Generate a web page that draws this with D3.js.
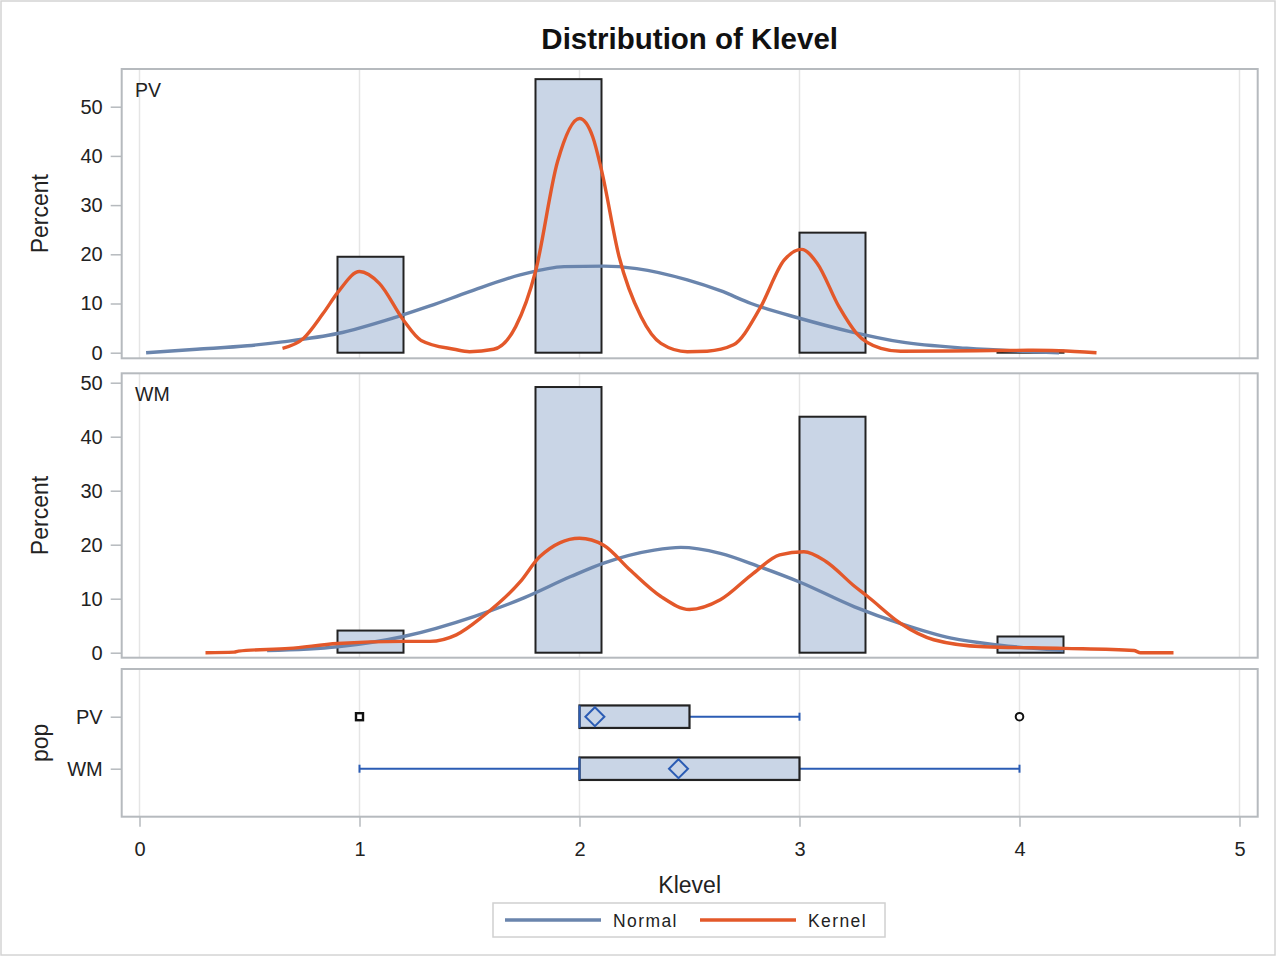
<!DOCTYPE html>
<html>
<head>
<meta charset="utf-8">
<script src="https://cdn.jsdelivr.net/npm/d3@7"></script>
<style>
  html, body { margin: 0; padding: 0; background: #fff; }
  svg { display: block; font-family: "Liberation Sans", Arial, sans-serif; }
</style>
</head>
<body>
<svg id="chart" width="1276" height="957"></svg>
<script>
// ---- data ----
const xTicks = [0, 1, 2, 3, 4, 5];
const pctTicks = [0, 10, 20, 30, 40, 50];
const groups = ["PV", "WM"];

// histogram bins (Klevel) and percent per bin
const binEdges = [0.9, 1.2, 1.5, 1.8, 2.1, 2.4, 2.7, 3.0, 3.3, 3.6, 3.9, 4.2];
const pvPercent = [19.5, 0, 0, 55.6, 0, 0, 0, 24.4, 0, 0, 0.4];
const wmPercent = [4.1, 0, 0, 49.2, 0, 0, 0, 43.7, 0, 0, 3.0];

// fitted normal density (percent scale)
const pvNormal = [[0.03,0.0],[0.26,0.7],[0.49,1.4],[0.65,2.2],[0.9,3.9],[1.17,7.3],[1.32,9.5],[1.5,12.4],
  [1.73,15.8],[1.93,17.5],[2.11,17.6],[2.26,17.1],[2.49,14.8],[2.64,12.6],[2.78,10.0],[3.0,7.0],
  [3.23,4.3],[3.46,2.2],[3.76,0.9],[4.06,0.2],[4.18,0.0]];
const wmNormal = [[0.58,0.4],[0.9,1.1],[1.2,3.0],[1.52,6.7],[1.75,10.2],[1.96,14.1],[2.11,16.6],[2.34,19.0],
  [2.46,19.5],[2.64,18.4],[2.82,15.9],[3.0,13.1],[3.25,8.5],[3.46,5.4],[3.69,2.7],[3.91,1.4],[4.2,0.4]];

// kernel density estimate (percent scale)
const pvKernel = [[0.65,0.9],[0.745,2.9],[0.835,8.0],[0.904,12.4],[1.0,16.5],[1.09,14.1],[1.2,6.6],[1.28,2.5],
  [1.43,0.7],[1.5,0.2],[1.61,0.7],[1.71,5.3],[1.8,16.5],[1.9,38.8],[2.0,47.6],[2.06,43.9],[2.1,37.1],
  [2.18,19.5],[2.28,7.3],[2.37,1.9],[2.49,0.2],[2.58,0.3],[2.7,1.6],[2.82,9.0],[2.93,18.8],[3.01,21.0],
  [3.08,18.2],[3.18,9.3],[3.26,3.9],[3.37,0.9],[3.46,0.3],[3.8,0.4],[4.06,0.5],[4.18,0.4],[4.35,0.0]];
const wmKernel = [[0.3,0.0],[0.43,0.1],[0.45,0.3],[0.68,0.8],[0.9,1.7],[1.2,2.1],[1.32,2.1],[1.44,3.3],
  [1.56,6.7],[1.73,13.1],[1.82,17.8],[2.0,21.2],[2.11,19.9],[2.23,15.3],[2.37,10.4],[2.5,8.0],
  [2.64,9.8],[2.79,14.7],[2.91,18.1],[3.02,18.7],[3.12,16.9],[3.25,12.3],[3.31,10.4],[3.46,5.4],
  [3.61,2.4],[3.84,1.1],[4.2,0.8],[4.52,0.4],[4.55,0.0],[4.7,0.0]];

// box plot summaries per group
const boxQ1 = [2, 2];
const boxMedian = [2, 2];
const boxQ3 = [2.5, 3];
const boxMean = [2.07, 2.45];
const whiskerLow = [2, 1];
const whiskerHigh = [3, 4];
const outliers = [[1, 4], []];

// ---- layout ----
const svg = d3.select("#chart");
const W = 1276, H = 957;
const frameL = 121.7, frameR = 1257.7;
const blue = "#6a85ad", orange = "#e3582a", boxFill = "#c9d5e6", whisk = "#2b5cb4";
const frameColor = "#b6babe", gridColor = "#e5e5e5", textColor = "#222";

const x = d3.scaleLinear().domain([0, 5]).range([139.5, 1239.5]);

svg.append("rect").attr("x", 1).attr("y", 1).attr("width", W - 2).attr("height", H - 3)
  .attr("fill", "#fff").attr("stroke", "#d4d4d4").attr("stroke-width", 1.5);

svg.append("text").attr("x", (frameL + frameR) / 2).attr("y", 49)
  .attr("text-anchor", "middle").attr("font-size", 29.5).attr("font-weight", "bold")
  .attr("fill", "#111").text("Distribution of Klevel");

function gridlines(g, top, bottom) {
  g.append("g").selectAll("line").data(xTicks).join("line")
    .attr("x1", d => x(d)).attr("x2", d => x(d))
    .attr("y1", top).attr("y2", bottom)
    .attr("stroke", gridColor).attr("stroke-width", 1.5);
}

function frame(g, top, bottom) {
  g.append("rect").attr("x", frameL).attr("y", top)
    .attr("width", frameR - frameL).attr("height", bottom - top)
    .attr("fill", "none").attr("stroke", frameColor).attr("stroke-width", 2);
}

function styleAxis(ax) {
  ax.select(".domain").remove();
  ax.selectAll(".tick line").attr("stroke", frameColor).attr("stroke-width", 1.5);
  ax.selectAll(".tick text").attr("fill", textColor).attr("font-size", 20)
    .attr("font-family", "'Liberation Sans', Arial, sans-serif");
}

function histPanel(label, percent, normal, kernel, top, bottom, y0, y50) {
  const y = d3.scaleLinear().domain([0, 50]).range([y0, y50]);
  const g = svg.append("g");
  gridlines(g, top, bottom);

  const bins = percent.map((v, i) => ({ a: binEdges[i], b: binEdges[i + 1], v }));
  g.append("g").selectAll("rect").data(bins).join("rect")
    .attr("x", d => x(d.a)).attr("width", d => x(d.b) - x(d.a))
    .attr("y", d => y(d.v)).attr("height", d => y(0) - y(d.v))
    .attr("fill", boxFill).attr("stroke", "#222").attr("stroke-width", 2);

  const line = d3.line().x(d => x(d[0])).y(d => y(d[1])).curve(d3.curveMonotoneX);
  g.append("path").attr("d", line(normal)).attr("fill", "none")
    .attr("stroke", blue).attr("stroke-width", 3.4).attr("stroke-linejoin", "round");
  g.append("path").attr("d", line(kernel)).attr("fill", "none")
    .attr("stroke", orange).attr("stroke-width", 3.4).attr("stroke-linejoin", "round");

  frame(g, top, bottom);

  const ax = g.append("g").attr("transform", `translate(${frameL},0)`)
    .call(d3.axisLeft(y).tickValues(pctTicks).tickSize(11).tickPadding(8));
  styleAxis(ax);

  g.append("text").attr("x", 135).attr("y", top + 28).attr("font-size", 19.5)
    .attr("fill", textColor).text(label);

  g.append("text").attr("transform", `translate(48,${(top + bottom) / 2}) rotate(-90)`)
    .attr("text-anchor", "middle").attr("font-size", 23).attr("fill", textColor).text("Percent");
}

histPanel("PV", pvPercent, pvNormal, pvKernel, 69, 358.3, 352.7, 106.7);
histPanel("WM", wmPercent, wmNormal, wmKernel, 373.3, 657.7, 652.7, 382.7);

// ---- box plot panel ----
const bTop = 669, bBottom = 816.7;
const yb = d3.scalePoint().domain(groups).range([716.7, 768.7]);
const gb = svg.append("g");
gridlines(gb, bTop, bBottom);
const boxH = 22.5;

groups.forEach((grp, i) => {
  const cy = yb(grp);
  // whiskers
  if (whiskerLow[i] < boxQ1[i]) {
    gb.append("line").attr("x1", x(whiskerLow[i])).attr("x2", x(boxQ1[i]))
      .attr("y1", cy).attr("y2", cy).attr("stroke", whisk).attr("stroke-width", 2);
    gb.append("line").attr("x1", x(whiskerLow[i])).attr("x2", x(whiskerLow[i]))
      .attr("y1", cy - 4).attr("y2", cy + 4).attr("stroke", whisk).attr("stroke-width", 2);
  }
  if (whiskerHigh[i] > boxQ3[i]) {
    gb.append("line").attr("x1", x(boxQ3[i])).attr("x2", x(whiskerHigh[i]))
      .attr("y1", cy).attr("y2", cy).attr("stroke", whisk).attr("stroke-width", 2);
    gb.append("line").attr("x1", x(whiskerHigh[i])).attr("x2", x(whiskerHigh[i]))
      .attr("y1", cy - 4).attr("y2", cy + 4).attr("stroke", whisk).attr("stroke-width", 2);
  }
  // box
  gb.append("rect").attr("x", x(boxQ1[i])).attr("y", cy - boxH / 2)
    .attr("width", x(boxQ3[i]) - x(boxQ1[i])).attr("height", boxH)
    .attr("fill", boxFill).attr("stroke", "#222").attr("stroke-width", 2.2);
  // median
  gb.append("line").attr("x1", x(boxMedian[i])).attr("x2", x(boxMedian[i]))
    .attr("y1", cy - boxH / 2).attr("y2", cy + boxH / 2)
    .attr("stroke", whisk).attr("stroke-width", 2);
  // mean
  const m = x(boxMean[i]), r = 9.5;
  gb.append("path").attr("d", `M${m},${cy - r}L${m + r},${cy}L${m},${cy + r}L${m - r},${cy}Z`)
    .attr("fill", "none").attr("stroke", whisk).attr("stroke-width", 2);
  // outliers
  outliers[i].forEach((o, k) => {
    if (k === 0 && o < boxQ1[i]) {
      gb.append("rect").attr("x", x(o) - 3.5).attr("y", cy - 3.5).attr("width", 7).attr("height", 7)
        .attr("fill", "#fff").attr("stroke", "#111").attr("stroke-width", 2.4);
    } else {
      gb.append("circle").attr("cx", x(o)).attr("cy", cy).attr("r", 3.8)
        .attr("fill", "#fff").attr("stroke", "#111").attr("stroke-width", 2);
    }
  });
});

frame(gb, bTop, bBottom);

const axb = gb.append("g").attr("transform", `translate(${frameL},0)`)
  .call(d3.axisLeft(yb).tickSize(11).tickPadding(8));
styleAxis(axb);

gb.append("text").attr("transform", `translate(48,${(bTop + bBottom) / 2}) rotate(-90)`)
  .attr("text-anchor", "middle").attr("font-size", 23).attr("fill", textColor).text("pop");

// x axis
const axx = svg.append("g").attr("transform", `translate(0,${bBottom})`)
  .call(d3.axisBottom(x).tickValues(xTicks).tickFormat(d3.format("d")).tickSize(10).tickPadding(15));
styleAxis(axx);

svg.append("text").attr("x", (frameL + frameR) / 2).attr("y", 893)
  .attr("text-anchor", "middle").attr("font-size", 23).attr("fill", textColor).text("Klevel");

// legend
const lg = svg.append("g");
lg.append("rect").attr("x", 493).attr("y", 903).attr("width", 392).attr("height", 34)
  .attr("fill", "#fff").attr("stroke", "#d0d0d0").attr("stroke-width", 1.5);
const legendItems = [
  { name: "Normal", color: blue, x0: 505 },
  { name: "Kernel", color: orange, x0: 700 }
];
legendItems.forEach(it => {
  lg.append("line").attr("x1", it.x0).attr("x2", it.x0 + 96).attr("y1", 920).attr("y2", 920)
    .attr("stroke", it.color).attr("stroke-width", 3.4);
  lg.append("text").attr("x", it.x0 + 108).attr("y", 926.5).attr("font-size", 17.5)
    .attr("letter-spacing", 1.4).attr("fill", textColor).text(it.name);
});
</script>
</body>
</html>
